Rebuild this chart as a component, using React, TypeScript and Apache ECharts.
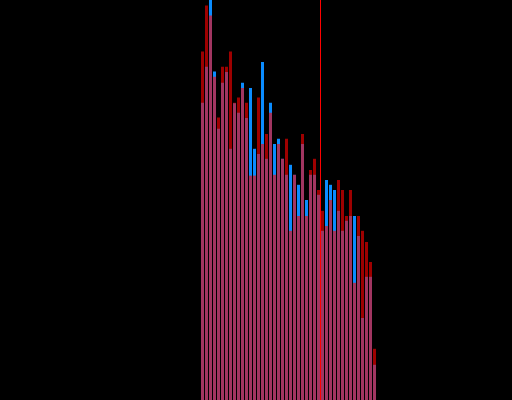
import React, { useEffect, useRef } from "react";
import * as echarts from "echarts";

// Bin labels along the horizontal axis (axis itself is hidden)
const bins: string[] = Array.from({ length: 44 }, (_, i) => String(i + 1));

// Series values per bin
const blueValues: number[] = [
  74.3, 83.3, 103, 82.1, 67.8, 79.3, 82.0, 62.8, 74.2, 71.8, 79.3,
  70.5, 78.0, 62.8, 61.5, 84.5, 60.3, 74.3, 64.0, 65.3, 60.3, 56.3,
  58.8, 56.3, 53.8, 64.0, 50.0, 56.3, 56.3, 51.3, 42.3, 55.0, 53.8,
  52.5, 47.3, 42.3, 44.8, 46.0, 46.0, 41.0, 20.5, 30.8, 30.8, 8.8,
];

const redValues: number[] = [
  87.1, 98.6, 96.1, 80.8, 70.6, 83.3, 83.3, 87.1, 74.3, 75.6, 78.0,
  74.3, 56.1, 56.1, 75.6, 64.0, 66.5, 71.8, 56.3, 64.0, 60.3, 65.3,
  42.3, 56.3, 46.0, 66.5, 46.0, 57.5, 60.3, 52.5, 47.3, 43.5, 50.0,
  42.3, 55.0, 52.5, 46.0, 52.5, 29.3, 46.0, 42.3, 39.5, 34.5, 12.8,
];

// Position of the vertical marker, in bin-boundary units
const markerPosition = 30;

export default function App() {
  const ref = useRef<HTMLDivElement>(null);

  useEffect(() => {
    if (!ref.current) return;
    const chart = echarts.init(ref.current, undefined, { renderer: "svg" });
    chart.setOption({
      animation: false,
      backgroundColor: "#000000",
      grid: { left: 200.5, width: 176, top: 0, bottom: 0 },
      xAxis: [
        { type: "category", data: bins, show: false },
        { type: "value", min: 0, max: bins.length, show: false },
      ],
      yAxis: { type: "value", min: 0, max: 100, show: false, splitLine: { show: false } },
      series: [
        {
          type: "bar",
          data: blueValues,
          barWidth: 3,
          barGap: "-100%",
          itemStyle: { color: "#0a8cff" },
        },
        {
          type: "bar",
          data: redValues,
          barWidth: 3,
          barGap: "-100%",
          itemStyle: { color: "#ff0000", opacity: 0.62 },
        },
        {
          type: "line",
          xAxisIndex: 1,
          data: [[markerPosition, 0]],
          symbol: "none",
          lineStyle: { opacity: 0 },
          markLine: {
            silent: true,
            symbol: "none",
            label: { show: false },
            lineStyle: { color: "#ff0000", width: 1, type: "solid" },
            data: [{ xAxis: markerPosition }],
          },
        },
      ],
    });
    return () => chart.dispose();
  }, []);

  return (
    <div
      ref={ref}
      style={{ position: "fixed", left: 0, top: 0, width: 512, height: 400 }}
    />
  );
}
